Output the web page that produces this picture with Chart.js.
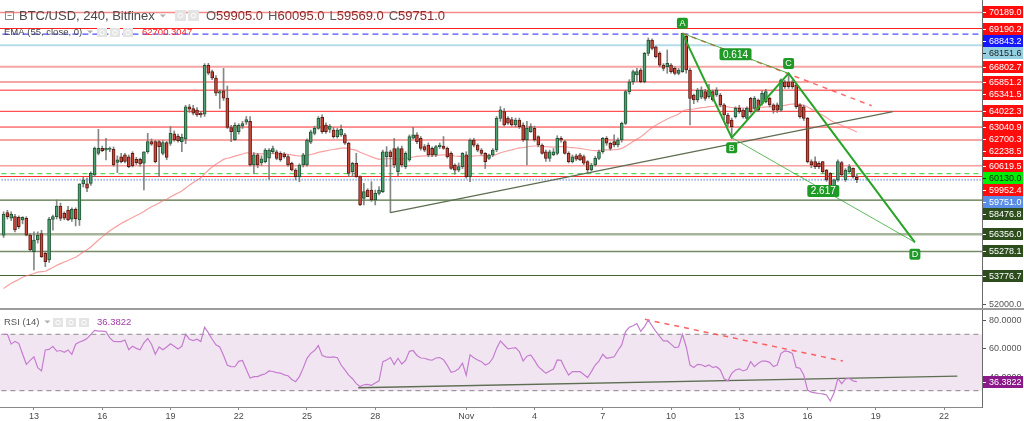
<!DOCTYPE html>
<html>
<head>
<meta charset="utf-8">
<script src="https://cdn.jsdelivr.net/npm/chart.js@4.4.0/dist/chart.umd.min.js"></script>
<style>
html, body { margin: 0; padding: 0; background: #fff; overflow: hidden; }
#wrap { position: relative; width: 1024px; height: 421px; }
#main { position: absolute; left: 0; top: 0; }
#sep { position: absolute; left: 0; top: 308px; width: 1024px; height: 2px; background: #9c9c9c; }
#rsi { position: absolute; left: 0; top: 310px; }
</style>
</head>
<body>
<div id="wrap">
  <canvas id="main" width="1024" height="308"></canvas>
  <div id="sep"></div>
  <canvas id="rsi" width="1024" height="111"></canvas>
</div>
<script>
// BTC/USD 240 (4h candles), Bitfinex, Oct 11 16:00 -> Nov 18 04:00
var opens = [
56300,57700,57350,57450,57400,57250,57350,56300,55270,55990,
56400,55160,54750,57280,57450,58110,57660,57860,57300,57900,
57240,59490,59490,59530,60050,61400,61710,61600,61650,61650,
60830,61190,61300,61190,61400,61030,61030,60780,61500,62130,
62130,62130,61400,62070,62020,62610,62480,62130,62280,64300,
64200,64100,63900,63850,66900,66500,66100,65150,65300,64850,
63000,62250,62750,63100,63350,63400,60670,61300,60800,60880,
61100,61500,61500,61400,61350,61200,60770,60360,59950,60670,
60670,62100,62650,62960,63650,63170,62900,62850,62440,62550,
62550,62030,60250,60780,59945,58590,59110,59110,58490,58900,
59010,61200,61500,61700,60250,61700,60570,60990,62340,62550,
62330,61820,61910,61710,61300,61820,61850,61710,61400,60670,
60350,60570,61300,59945,62230,61910,61600,61400,61090,61300,
61610,63580,64000,63600,63500,63170,63480,63170,62230,62750,
62960,62440,61920,61500,61090,61300,61400,62330,62130,61400,
60880,61240,61300,61200,60880,60360,60670,61090,61500,62330,
62030,62130,61920,62230,63270,65250,65870,66300,66600,65870,
67640,68470,68050,67640,66910,66810,66910,66700,66390,66500,
68700,66600,65040,64730,64900,65250,64930,65250,65040,65040,
64420,63790,63480,63690,64210,64100,63580,64830,64210,64730,
64520,64620,64830,64420,64420,64100,65870,65870,65870,65660,
64420,64310,63580,60880,60880,60780,60880,60360,60150,59110,
59740,60820,59740,60260,60460,59905
];
var highs = [
57750,57850,57750,57600,57500,57450,57450,56400,56500,56500,
56600,55300,57400,57550,58490,58300,57750,58100,58000,58000,
59500,59900,59850,60250,61800,62900,61850,62330,61800,61800,
61250,61400,61400,61300,61500,61150,61100,61500,62650,62300,
62200,62200,62200,62150,63070,62800,62600,62600,64400,64450,
64400,64250,64000,67000,67020,66600,66250,65350,66700,65600,
63150,63300,63250,63400,63700,63700,61450,61400,61250,61700,
61700,61850,61600,61500,61450,61300,60850,60450,60750,61400,
62300,62850,63100,63700,63800,63300,63200,63000,62950,63170,
62650,62100,60850,61400,60000,59530,59200,59630,59110,59320,
61600,61820,61600,62330,61800,61850,61500,62550,63020,62700,
62450,61950,62050,61800,61900,62050,62450,61800,61500,60750,
60800,61450,61500,62300,62330,62000,61700,61450,61350,61700,
63700,64320,64200,63700,63650,63600,63600,63300,63400,63250,
63100,62500,62000,61600,61600,61700,62500,62450,62200,61500,
61300,61350,61400,61300,60950,60780,61200,61600,62400,62450,
62100,62550,62350,63350,65350,66000,66600,66700,66700,67700,
68600,68550,68100,67740,67000,67850,67000,66800,66700,68900,
68850,66700,65100,65450,65550,65400,65700,65350,65500,65150,
64500,63900,63600,64300,64400,64200,64300,64900,64950,64800,
65300,65400,64900,64500,64550,66050,65950,66390,65950,65700,
64500,64400,63650,61000,61190,60880,60900,60400,60200,59800,
61000,60900,60450,60700,60500,60095
];
var lows = [
56150,57300,57200,56500,56700,57000,56250,55300,54120,55800,
54900,54330,54600,56600,57300,57200,57250,57200,57150,56870,
56900,59300,59010,59400,59950,61300,61500,60990,61500,60600,
60200,60800,60800,60500,60550,60700,60600,59110,61400,61900,
60800,59950,61300,61000,61900,62150,62100,61500,62000,63950,
63800,63700,63650,63700,66300,66000,65000,64200,64700,62950,
62130,62200,62600,62950,63200,60600,60150,60500,60650,60800,
59780,61400,61000,60900,61100,60600,60300,59740,59630,60550,
60600,62000,62550,62900,62650,62650,62700,62350,62350,62450,
61950,59950,59950,59900,58130,58180,58700,58400,58180,58800,
58950,60570,57700,60500,60000,60550,60450,60900,62300,62000,
61600,61500,61200,61200,61200,61700,61650,61100,60400,60100,
60250,60450,59850,59630,61800,61500,61300,60450,61000,61200,
61500,63400,63100,63200,63100,63050,62950,62150,60670,62700,
62150,61800,61350,60900,60900,61250,61300,62100,61350,60800,
60800,60950,60950,60700,60150,60300,60600,61000,61400,61900,
61600,61800,61800,62100,63200,65100,65700,65870,65800,65800,
67500,67850,67350,66800,66550,66390,66400,66300,66300,66450,
66400,63170,64500,64600,64800,64700,64850,64650,64950,64300,
63500,63100,62380,63600,63900,63600,63500,63900,64100,64000,
64400,64550,64300,63900,63950,64000,65450,65450,65450,64200,
63600,63450,60800,60500,60450,60450,60150,59650,59010,59010,
59650,59950,59650,60200,59850,59569
];
var closes = [
57600,57450,57600,56620,56830,57400,56300,55370,55990,56300,
54950,54640,57280,57450,58110,57340,57350,57240,57900,57330,
59490,59740,59230,60150,61710,61710,61560,61710,61710,60670,
60990,60880,60900,60570,60610,60820,60740,61500,62130,61980,
60880,61820,62070,61150,62650,62230,62190,62400,64310,64150,
63900,63800,63800,66900,66400,66100,65150,65250,64850,63020,
62750,63150,63150,63250,63500,60670,61300,60670,61050,61600,
61600,61700,61090,60990,61200,60670,60360,59950,60670,61300,
62230,62750,62960,63580,62750,62750,63100,62440,62850,62900,
62030,60150,60780,59945,58180,59010,58700,58490,58900,59110,
61500,61500,61200,60670,61700,60670,61400,62440,62550,62130,
61710,61600,61300,61300,61820,61920,61710,61200,60460,60350,
60570,61400,59945,62230,61910,61600,61400,60880,61300,61610,
63580,64110,63170,63280,63170,63480,63070,62230,62960,63070,
62230,61920,61400,61090,61500,61500,62330,62230,61400,60880,
61190,61030,60990,60780,60360,60670,61090,61500,62330,62030,
61710,61920,62230,63270,65250,65870,66500,66500,65870,67640,
68470,67950,67430,66910,66700,67020,66500,66390,66600,68890,
66600,64830,64730,65350,65350,64830,65350,64730,65350,64420,
63790,63270,63060,64210,64000,63690,64210,64000,64830,64100,
65150,65250,64420,64100,64100,65980,65560,65560,65560,64310,
63690,63580,60880,60670,60570,60570,60260,59740,59110,59740,
60880,60050,60360,60570,59950,59751
];
// RSI(14) as plotted in the lower pane
var rsi = [
70,70,63,65,63.6,56,48.7,51.5,54,46.3,
44,58.9,59.3,61.5,58,58.5,57.2,58.9,55.8,63,
64.5,65.5,67,70,72.8,72.3,72.3,71.9,67.5,65,
64.8,64.8,66,59,61.5,60,59,64,67,63,
55.8,61,59,61,63.3,61.5,59.6,61.5,70,66.5,
65.6,66.5,64.8,75,71,66.5,62.5,61,55,48,
47.1,47,50.8,51.4,45,39,40,40,41.2,42,
44,43.6,42.8,42.5,41.2,40.6,38,36.4,40,46,
53,56.5,58.5,62,55,54,53.6,54,53.4,48.2,
44.7,41,38.5,35,33,34.2,34.5,33.8,35.5,37,
50.6,51.8,53.5,48.5,53,48.9,51.5,57.9,58.5,55,
53.2,53,52,51.6,53.2,53.5,52,48,43,43.8,
45.5,49.5,41,55.5,53.4,51.8,50.6,48.2,49.4,53,
60,65.3,62.4,59.6,60.1,60.5,57.7,51,54.5,55.3,
51.5,47.1,44.7,42.3,44,45.4,51.8,51.5,45.9,41.1,
43.5,43.5,43.5,41.5,39.3,43.5,48.2,51,55.8,53,
53.4,54.1,58.5,62.5,72,75,76.1,77.6,72,75.5,
80.1,76,72,68.5,65.3,65.3,63,60.5,61,70,
61.2,48.2,46.5,48.7,48.4,47.1,48.2,46.5,47,44.7,
38.5,37,42.3,44.7,45.5,44,45,50.6,47,49.4,
51,51,50.1,47.1,48.2,56.5,58.2,57.7,56.5,46.5,
45.9,41.1,30.5,29,28.5,28,27.7,27,22.7,28.5,
38.8,35,38.3,38.8,37,36.3822
];

// date axis: days after Oct 13, Oct 13 00:00 is candle 8
var dayLabels = ['13','16','19','22','25','28','Nov','4','7','10','13','16','19','22'];
var dayOffsets = [0,3,6,9,12,15,19,22,25,28,31,34,37,40];
var firstDayCandle = 8, candlesPerDay = 6;

// horizontal levels drawn on the chart
var levelPrices = [70189.0,69190.2,68843.2,68151.6,66802.7,65851.2,65341.5,64022.3,63040.9,62238.5,60619.5,60130.0,59952.4,59751.0,58476.8,56356.0,55278.1,53776.7];
var levelColor = ['rgba(240,60,60,0.6)','#ff1f1f','#5050ff','#b4dde9','rgba(240,90,90,0.55)','rgba(240,90,90,0.55)','#ff2a2a','#ff2a2a','#ff2a2a','rgba(240,90,90,0.55)','rgba(240,60,60,0.75)','#33cc33','#ff2a2a','#9db5ea','#52703f','#a6b59a','#788a69','#456438'];
var levelWidth = [1.5,1,1.2,2,2,2,1,1,1,2,1,1,1,2,1.2,2.5,1.5,1.2];
var levelDash = [[],[],[6,4],[],[],[],[],[],[],[],[],[5,4],[],[1.5,1.5],[],[],[],[]];
var RED = '#ff0d0d', DKG = '#2d4d1c';
var tagBg = [RED,RED,'#1717ff','#94d0e2',RED,RED,RED,RED,RED,RED,RED,'#00ee00',RED,'#5b8ee6',DKG,DKG,DKG,DKG];
var tagFg = ['#fff','#fff','#fff','#222','#fff','#fff','#fff','#fff','#fff','#fff','#fff','#222','#fff','#fff','#fff','#fff','#fff','#fff'];
var axisTick = 52000;

// EMA(55, close)
var emaLength = 55, emaSeed = 52800, emaLast = 62700.3047;

// drawings (candle index, price)
var supportIdx = [102, 234.5], supportPrice = [57700, 64000];
var resistIdx = [179, 228.9], resistPrice = [68890, 64373];
var patternNames = ['A','B','C','D'];
var patternIdx = [179, 192, 207, 240.3];
var patternPrice = [68890, 62380, 66390, 55850];
var ratioLabels = ['0.614', '2.617'];
var rsiSupportIdx = [93.5, 251.5], rsiSupportVal = [32.1, 40.4];
var rsiResistIdx = [169.1, 221.3], rsiResistVal = [80.6, 51.1];
var rsiBand = [70, 30], rsiTicks = [80, 60, 40];

var X0 = -0.95, X1 = 258;
var FONT = '"Liberation Sans", Arial, sans-serif';
Chart.defaults.font.family = FONT;

var n = closes.length;
var bodies = [], wicks = [], bodyFill = [], bodyLine = [];
for (var i = 0; i < n; i++) {
  bodies.push({x: i, y: [opens[i], closes[i]]});
  wicks.push({x: i, y: [lows[i], highs[i]]});
  var up = closes[i] >= opens[i];
  bodyFill.push(up ? '#4fa06e' : '#c9483a');
  bodyLine.push(up ? '#225437' : '#5b1a13');
}
var ema = [], e = emaSeed, k = 2 / (emaLength + 1);
closes.forEach(function (c, j) { e += k * (c - e); ema.push({x: j, y: e}); });

function seg(xs, ys) { return xs.map(function (v, j) { return {x: v, y: ys[j]}; }); }

var datasets = [
  {type: 'line', data: seg(patternIdx.slice(0, 4), patternPrice), borderColor: '#28a428', borderWidth: 2, pointRadius: 0, order: 0},
  {type: 'line', data: seg([patternIdx[0], patternIdx[2]], [patternPrice[0], patternPrice[2]]), borderColor: 'rgba(40,164,40,0.8)', borderWidth: 1, pointRadius: 0, order: 0},
  {type: 'line', data: seg([patternIdx[1], patternIdx[3]], [patternPrice[1], patternPrice[3]]), borderColor: 'rgba(40,164,40,0.75)', borderWidth: 1, pointRadius: 0, order: 0},
  {type: 'line', data: seg(resistIdx, resistPrice), borderColor: 'rgba(255,70,70,0.8)', borderDash: [5, 5], borderWidth: 1.5, pointRadius: 0, order: 1},
  {type: 'line', data: seg(supportIdx, supportPrice), borderColor: '#5e6e52', borderWidth: 1.3, pointRadius: 0, order: 1},
  {type: 'bar', data: bodies, backgroundColor: bodyFill, borderColor: bodyLine, borderWidth: 1, borderSkipped: false, barThickness: 3, grouped: false, minBarLength: 1, order: 2},
  {type: 'bar', data: wicks, backgroundColor: 'rgba(110,115,112,0.85)', barThickness: 1, grouped: false, order: 3},
  {type: 'line', data: ema, borderColor: 'rgba(245,120,120,0.7)', borderWidth: 1.2, pointRadius: 0, order: 4}
];
levelPrices.forEach(function (p, j) {
  datasets.push({type: 'line', data: seg([X0 - 2, X1 + 2], [p, p]), borderColor: levelColor[j], borderWidth: levelWidth[j], borderDash: levelDash[j], pointRadius: 0, order: 5});
});

function txt(ctx, s, x, y, font, color) {
  ctx.font = font; ctx.fillStyle = color; ctx.fillText(s, x, y);
  return x + ctx.measureText(s).width;
}
function caret(ctx, x, y) {
  ctx.fillStyle = '#b0b0b0'; ctx.beginPath();
  ctx.moveTo(x, y - 1.5); ctx.lineTo(x + 6, y - 1.5); ctx.lineTo(x + 3, y + 1.5); ctx.closePath(); ctx.fill();
}
function icons(ctx, xs, y, w, h) {
  ctx.fillStyle = '#e4e4e4';
  xs.forEach(function (x) { ctx.fillRect(x, y, w, h); });
  ctx.strokeStyle = '#fff'; ctx.lineWidth = 1;
  xs.forEach(function (x) { ctx.beginPath(); ctx.arc(x + w / 2, y + h / 2, 2.2, 0, Math.PI * 2); ctx.stroke(); });
}
function rbox(ctx, cx, cy, w, h, fill) {
  ctx.fillStyle = fill; ctx.beginPath();
  if (ctx.roundRect) ctx.roundRect(cx - w / 2, cy - h / 2, w, h, 2); else ctx.rect(cx - w / 2, cy - h / 2, w, h);
  ctx.fill();
}
function tag(ctx, y, s, bg, fg) {
  ctx.fillStyle = bg; ctx.fillRect(983, Math.round(y) - 6, 40, 12);
  ctx.strokeStyle = fg; ctx.lineWidth = 1; ctx.beginPath();
  ctx.moveTo(983, Math.round(y) + 0.5); ctx.lineTo(986, Math.round(y) + 0.5); ctx.stroke();
  ctx.font = '9px ' + FONT; ctx.fillStyle = fg; ctx.textAlign = 'left'; ctx.textBaseline = 'middle';
  ctx.fillText(s, 989, Math.round(y) + 0.5);
}

var mainOverlay = {
  id: 'mainOverlay',
  afterDraw: function (chart) {
    var ctx = chart.ctx, xs = chart.scales.x, ys = chart.scales.y;
    ctx.save();
    // pattern labels
    ctx.textAlign = 'center'; ctx.textBaseline = 'middle';
    var pts = patternIdx.map(function (v, j) { return [xs.getPixelForValue(v), ys.getPixelForValue(patternPrice[j])]; });
    pts.forEach(function (p, j) {
      var dy = (j % 2 === 0) ? -10 : (j === 3 ? 12 : 10);
      rbox(ctx, p[0], p[1] + dy, 11, 11, '#1f9a26');
      ctx.font = '9px ' + FONT; ctx.fillStyle = '#fff'; ctx.fillText(patternNames[j], p[0], p[1] + dy + 0.5);
    });
    [[0, 2], [1, 3]].forEach(function (pr, j) {
      var cx = (pts[pr[0]][0] + pts[pr[1]][0]) / 2, cy = (pts[pr[0]][1] + pts[pr[1]][1]) / 2;
      rbox(ctx, cx, cy + 1, 32, 12, '#1f9a26');
      ctx.font = '10px ' + FONT; ctx.fillStyle = '#fff'; ctx.fillText(ratioLabels[j], cx, cy + 1.5);
    });
    // header
    ctx.textAlign = 'left'; ctx.textBaseline = 'middle';
    ctx.strokeStyle = '#8a8a8a'; ctx.lineWidth = 1;
    ctx.strokeRect(5.5, 11.5, 8, 8);
    ctx.beginPath(); ctx.moveTo(7.5, 15.5); ctx.lineTo(11.5, 15.5); ctx.stroke();
    var x = txt(ctx, 'BTC/USD, 240, Bitfinex', 19, 16, '13px ' + FONT, '#4a4a4a');
    caret(ctx, x + 5, 16);
    icons(ctx, [175, 188], 10, 11, 11);
    var last = n - 1;
    x = 206;
    [['O', opens[last]], ['H', highs[last]], ['L', lows[last]], ['C', closes[last]]].forEach(function (q) {
      x = txt(ctx, q[0], x, 16, '13px ' + FONT, '#5a5a5a');
      x = txt(ctx, q[1].toFixed(1), x, 16, '13px ' + FONT, '#8b2b2b') + 5;
    });
    x = txt(ctx, 'EMA (55, close, 0)', 4, 32, '9.5px ' + FONT, '#444');
    caret(ctx, x + 5, 32);
    icons(ctx, [97, 110, 123], 28, 10, 9);
    txt(ctx, emaLast.toFixed(4), 142, 32, '9.5px ' + FONT, '#ff2020');
    // price axis tags, pushed apart like the original
    var tags = levelPrices.map(function (p, j) { return {p: p, s: p.toFixed(1), bg: tagBg[j], fg: tagFg[j]}; });
    tags.push({p: emaLast, s: emaLast.toFixed(1), bg: RED, fg: '#fff'});
    tags.sort(function (a, b) { return b.p - a.p; });
    var prev = -100;
    tags.forEach(function (t) {
      var y = Math.max(ys.getPixelForValue(t.p), prev + 12);
      prev = y;
      tag(ctx, y, t.s, t.bg, t.fg);
    });
    var ty = ys.getPixelForValue(axisTick);
    ctx.strokeStyle = '#555'; ctx.beginPath(); ctx.moveTo(983, Math.round(ty) + 0.5); ctx.lineTo(986, Math.round(ty) + 0.5); ctx.stroke();
    ctx.font = '9px ' + FONT; ctx.fillStyle = '#555'; ctx.fillText(axisTick.toFixed(1), 989, ty + 0.5);
    ctx.restore();
  }
};

new Chart(document.getElementById('main').getContext('2d'), {
  type: 'bar',
  data: {datasets: datasets},
  options: {
    responsive: false, animation: false, devicePixelRatio: 1,
    layout: {padding: 0},
    plugins: {legend: {display: false}, tooltip: {enabled: false}},
    elements: {line: {tension: 0}},
    scales: {
      x: {type: 'linear', min: X0, max: X1, offset: false, display: false},
      y: {type: 'linear', position: 'right', min: 51749, max: 70969,
          grid: {display: false}, ticks: {display: false},
          border: {color: '#6b6b6b'},
          afterFit: function (s) { s.width = 42; }}
    }
  },
  plugins: [mainOverlay]
});

var rsiOverlay = {
  id: 'rsiOverlay',
  afterDraw: function (chart) {
    var ctx = chart.ctx, ys = chart.scales.y;
    ctx.save();
    ctx.textAlign = 'left'; ctx.textBaseline = 'middle';
    var x = txt(ctx, 'RSI (14)', 4, 12, '9.5px ' + FONT, '#555');
    caret(ctx, x + 5, 12);
    icons(ctx, [53, 66, 79], 8, 10, 9);
    txt(ctx, rsi[rsi.length - 1].toFixed(4), 97, 12, '9.5px ' + FONT, '#a23aa8');
    rsiTicks.forEach(function (v) {
      var y = ys.getPixelForValue(v);
      ctx.strokeStyle = '#555'; ctx.lineWidth = 1; ctx.beginPath();
      ctx.moveTo(983, Math.round(y) + 0.5); ctx.lineTo(986, Math.round(y) + 0.5); ctx.stroke();
      txt(ctx, v.toFixed(4), 989, y + 0.5, '9px ' + FONT, '#555');
    });
    tag(ctx, ys.getPixelForValue(rsi[rsi.length - 1]), rsi[rsi.length - 1].toFixed(4), '#8a1a8a', '#fff');
    ctx.restore();
  }
};

new Chart(document.getElementById('rsi').getContext('2d'), {
  type: 'line',
  data: {datasets: [
    {data: rsi.map(function (v, j) { return {x: j, y: v}; }), borderColor: '#c57ccf', borderWidth: 1.2, pointRadius: 0, order: 0},
    {data: seg(rsiResistIdx, rsiResistVal), borderColor: 'rgba(255,70,70,0.85)', borderDash: [5, 5], borderWidth: 1.5, pointRadius: 0, order: 1},
    {data: seg(rsiSupportIdx, rsiSupportVal), borderColor: '#5e6e52', borderWidth: 1.3, pointRadius: 0, order: 1},
    {data: seg([X0 - 2, X1 + 2], [rsiBand[0], rsiBand[0]]), borderColor: '#8c8c8c', borderDash: [5, 4], borderWidth: 1, pointRadius: 0, fill: '+1', backgroundColor: 'rgba(128,0,128,0.1)', order: 2},
    {data: seg([X0 - 2, X1 + 2], [rsiBand[1], rsiBand[1]]), borderColor: '#8c8c8c', borderDash: [5, 4], borderWidth: 1, pointRadius: 0, order: 3}
  ]},
  options: {
    responsive: false, animation: false, devicePixelRatio: 1,
    layout: {padding: 0},
    plugins: {legend: {display: false}, tooltip: {enabled: false}},
    elements: {line: {tension: 0}},
    scales: {
      x: {type: 'linear', min: X0, max: X1, offset: false, position: 'bottom',
          afterBuildTicks: function (s) {
            s.ticks = dayOffsets.map(function (d) { return {value: firstDayCandle + candlesPerDay * d}; });
          },
          afterFit: function (s) { s.height = 14; },
          ticks: {autoSkip: false, maxRotation: 0, padding: 1, color: '#4a4a4a', font: {size: 9},
                  callback: function (v, j) { return dayLabels[j]; }},
          grid: {drawOnChartArea: false, tickLength: 3, color: '#8a8a8a'},
          border: {color: '#8a8a8a'}},
      y: {type: 'linear', position: 'right', min: 18.44, max: 87.23,
          grid: {display: false}, ticks: {display: false},
          border: {color: '#6b6b6b'},
          afterFit: function (s) { s.width = 42; }}
    }
  },
  plugins: [rsiOverlay]
});
</script>
</body>
</html>
